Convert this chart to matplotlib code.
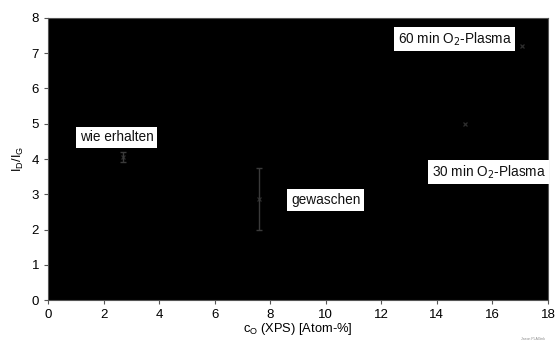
import matplotlib
matplotlib.use('Agg')
import matplotlib.pyplot as plt

plt.rcParams['font.family'] = ['Liberation Sans', 'DejaVu Sans']

# Sauerstoffgehalt (XPS) und D/G-Verhältnis
samples = ['wie erhalten', 'gewaschen', '30 min O$_2$-Plasma', '60 min O$_2$-Plasma']
c_o = [2.7, 7.6, 15.0, 17.05]
id_ig = [4.06, 2.87, 5.0, 7.2]
id_ig_err = [0.15, 0.87, 0.0, 0.0]

# Position der Beschriftungen (Datenkoordinaten)
label_pos = [(1.15, 4.62), (8.75, 2.84), (13.82, 3.63), (12.6, 7.4)]

fig = plt.figure(figsize=(5.58, 3.45), dpi=100)
ax = fig.add_axes([0.086, 0.130, 0.896, 0.818])
ax.set_facecolor('black')

ax.plot(c_o, id_ig, 'x', color='#2e2e2e', markersize=3, markeredgewidth=0.9)
# Fehlerbalken nur dort, wo es welche gibt
for x, y, e in zip(c_o, id_ig, id_ig_err):
    if e > 0:
        ax.errorbar(x, y, yerr=e, fmt='none', ecolor='#3a3a3a',
                    elinewidth=1.0, capsize=2.2, capthick=1.0)

for name, (lx, ly) in zip(samples, label_pos):
    ax.text(lx, ly, name, fontsize=9.8, color='#111111', va='center', ha='left',
            bbox=dict(facecolor='white', edgecolor='none', pad=2.5))

ax.set_xlim(0, 18)
ax.set_ylim(0, 8)
ax.set_xticks(range(0, 19, 2))
ax.set_yticks(range(0, 9))
ax.tick_params(labelsize=9.5, length=3, width=0.8, color='#555555', direction='out')
for s in ax.spines.values():
    s.set_color('#555555')
    s.set_linewidth(0.8)

ax.set_xlabel('c$_\\mathregular{O}$ (XPS) [Atom-%]', fontsize=9.3, labelpad=0)
ax.set_ylabel('I$_\\mathregular{D}$/I$_\\mathregular{G}$', fontsize=9.3, labelpad=4)

fig.text(0.955, 0.015, 'Jason PLAGink', fontsize=2.5, color='#888888', ha='center')

fig.savefig('out.png', dpi=100)
